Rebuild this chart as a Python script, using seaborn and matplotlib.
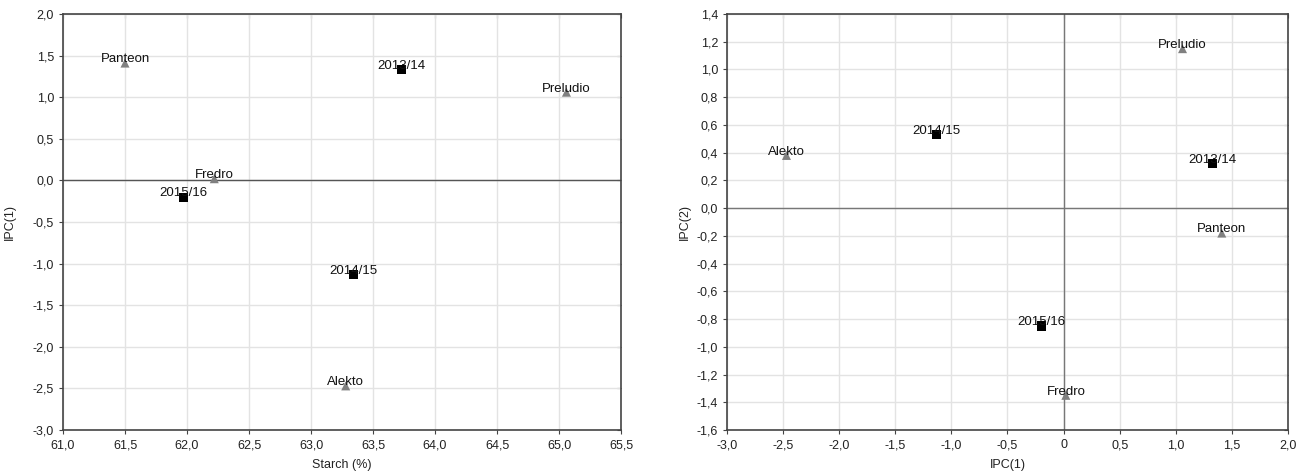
import pandas as pd
import seaborn as sns
import matplotlib.pyplot as plt
from matplotlib.ticker import MultipleLocator, FuncFormatter

# points: seasons (squares) and cultivars (triangles)
names = ["2013/14", "2014/15", "2015/16", "Alekto", "Fredro", "Panteon", "Preludio"]
kind = ["Season", "Season", "Season", "Cultivar", "Cultivar", "Cultivar", "Cultivar"]
starch = [63.73, 63.34, 61.97, 63.28, 62.22, 61.50, 65.06]
ipc1 = [1.33, -1.13, -0.20, -2.47, 0.02, 1.41, 1.06]
ipc2 = [0.32, 0.53, -0.85, 0.38, -1.35, -0.18, 1.15]

df = pd.DataFrame({"name": names, "kind": kind, "Starch": starch,
                   "IPC1": ipc1, "IPC2": ipc2})

sns.set_style("white")
plt.rcParams["font.family"] = ["Liberation Sans", "DejaVu Sans"]

font_size = 9
comma = FuncFormatter(lambda v, p: f"{v:.1f}".replace(".", ","))
comma0 = FuncFormatter(lambda v, p: "0" if abs(v) < 1e-9 else f"{v:.1f}".replace(".", ","))

fig = plt.figure(figsize=(13.09, 4.74), dpi=100)
ax1 = fig.add_axes([63 / 1309, 1 - 430 / 474, 558 / 1309, 416 / 474])
ax2 = fig.add_axes([727 / 1309, 1 - 430 / 474, 561 / 1309, 416 / 474])


def draw(ax, x, y, xlim, ylim, xstep, ystep, xlabel, ylabel, xfmt):
    ax.grid(True, color="#e3e3e3", linewidth=1)
    ax.set_axisbelow(True)
    sns.scatterplot(data=df, x=x, y=y, hue="kind", style="kind",
                    hue_order=["Season", "Cultivar"],
                    palette={"Season": "black", "Cultivar": "#808080"},
                    markers={"Season": "s", "Cultivar": "^"},
                    s=42, linewidth=0, legend=False, ax=ax, zorder=3)
    for _, r in df.iterrows():
        ax.annotate(r["name"], (r[x], r[y]), xytext=(0, 0.5),
                    textcoords="offset points", ha="center", va="baseline",
                    fontsize=9.5, color="#111111", zorder=4)
    ax.set_xlim(*xlim)
    ax.set_ylim(*ylim)
    ax.xaxis.set_major_locator(MultipleLocator(xstep))
    ax.yaxis.set_major_locator(MultipleLocator(ystep))
    ax.xaxis.set_major_formatter(xfmt)
    ax.yaxis.set_major_formatter(comma)
    ax.set_xlabel(xlabel, fontsize=font_size, color="#222222", labelpad=6)
    ax.set_ylabel(ylabel, fontsize=font_size, color="#222222")
    ax.tick_params(labelsize=font_size, labelcolor="#222222", length=3,
                   direction="out", color="#444444", bottom=True, left=True)
    for sp in ax.spines.values():
        sp.set_color("#444444")
        sp.set_linewidth(1.2)
    # inward ticks on top and right
    top = ax.secondary_xaxis("top")
    top.xaxis.set_major_locator(MultipleLocator(xstep))
    top.tick_params(direction="in", length=3, labeltop=False, color="#444444")
    top.spines["top"].set_visible(False)
    right = ax.secondary_yaxis("right")
    right.yaxis.set_major_locator(MultipleLocator(ystep))
    right.tick_params(direction="in", length=3, labelright=False, color="#444444")
    right.spines["right"].set_visible(False)


draw(ax1, "Starch", "IPC1", (61.0, 65.5), (-3.0, 2.0), 0.5, 0.5,
     "Starch (%)", "IPC(1)", comma)
ax1.axhline(0, color="#555555", linewidth=1, zorder=2)
ax1.yaxis.labelpad = 12

draw(ax2, "IPC1", "IPC2", (-3.0, 2.0), (-1.6, 1.4), 0.5, 0.2,
     "IPC(1)", "IPC(2)", comma0)
ax2.axhline(0, color="#777777", linewidth=1, zorder=2)
ax2.axvline(0, color="#777777", linewidth=1, zorder=2)

fig.savefig("out.png", dpi=100)
